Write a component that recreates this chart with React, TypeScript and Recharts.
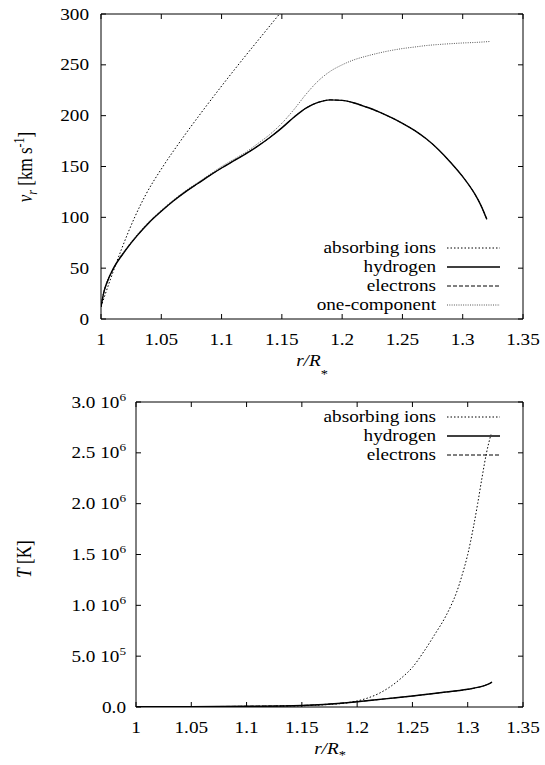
import { LineChart, Line, XAxis, YAxis } from "recharts";

const serif = "Liberation Serif, DejaVu Serif, Times New Roman, serif";

// axes
const xTicks = [1, 1.05, 1.1, 1.15, 1.2, 1.25, 1.3, 1.35];
const vTicks = [0, 50, 100, 150, 200, 250, 300];
const tTicks = [0, 5e5, 1e6, 1.5e6, 2e6, 2.5e6, 3e6];
const tMantissa = ["0.0", "5.0", "1.0", "1.5", "2.0", "2.5", "3.0"];
const tExponent = ["", "5", "6", "6", "6", "6", "6"];

// top panel: radial velocity [km/s]
const ionsVR = [1.0, 1.0081, 1.0168, 1.0283, 1.037, 1.0514, 1.0659, 1.0832, 1.1006, 1.1179, 1.135, 1.148];
const ionsV = [12, 40, 68, 101, 122, 150, 175, 203, 230, 256, 281, 300];

const hydroVR = [1.0, 1.0025, 1.005, 1.01, 1.02, 1.03, 1.04, 1.05, 1.06, 1.07, 1.08, 1.09, 1.1, 1.11, 1.12, 1.13, 1.14, 1.15, 1.16, 1.17, 1.18, 1.19, 1.2, 1.21, 1.22, 1.23, 1.24, 1.25, 1.26, 1.27, 1.28, 1.29, 1.3, 1.31, 1.315, 1.32];
const hydroV = [12, 27, 36, 49, 67, 82, 95, 106, 116, 125, 133, 141, 148.5, 155.5, 162.5, 170, 178.5, 188, 198.5, 207.5, 213, 215.5, 215, 212.5, 208.5, 204, 198.5, 192.5, 185.5, 177, 166.5, 154, 140, 123, 112, 98];
const electronsV = [12, 27, 36, 49, 67, 82, 95, 106, 116, 125, 133, 141, 148.5, 155.5, 162.5, 170, 178.5, 188, 198.5, 207.5, 213, 215.5, 215, 212.5, 208.5, 204, 198.5, 192.5, 185.5, 177, 166.5, 154, 140, 123, 112, 98];

const oneCompR = [1.0, 1.0025, 1.005, 1.01, 1.02, 1.03, 1.04, 1.05, 1.06, 1.07, 1.08, 1.09, 1.1, 1.11, 1.12, 1.13, 1.14, 1.15, 1.16, 1.17, 1.18, 1.19, 1.2, 1.21, 1.22, 1.23, 1.24, 1.25, 1.26, 1.27, 1.28, 1.29, 1.3, 1.31, 1.323];
const oneCompV = [12, 28, 37, 50, 68, 83, 96, 107, 117, 126, 134, 142, 150, 157, 164, 172.5, 181.5, 192.5, 206, 221, 234, 243.5, 250, 255, 258.5, 261.5, 264, 266, 267.5, 269, 270, 270.8, 271.5, 272, 273];

// bottom panel: temperature [K]
const ionsTR = [1.0, 1.05, 1.1, 1.15, 1.17, 1.19, 1.2, 1.21, 1.22, 1.23, 1.24, 1.25, 1.26, 1.27, 1.28, 1.285, 1.29, 1.295, 1.3, 1.305, 1.309, 1.313, 1.317, 1.321];
const ionsT = [3e3, 4e3, 6e3, 1.2e4, 2.2e4, 4e4, 6e4, 9e4, 1.35e5, 2.0e5, 2.85e5, 3.9e5, 5.4e5, 7.1e5, 8.9e5, 1.0e6, 1.13e6, 1.3e6, 1.5e6, 1.76e6, 2.0e6, 2.26e6, 2.5e6, 2.68e6];

const hydroTR = [1.0, 1.05, 1.1, 1.15, 1.17, 1.2, 1.225, 1.25, 1.275, 1.3, 1.31, 1.318, 1.322];
const hydroT = [3e3, 4e3, 7e3, 1.5e4, 2.5e4, 5.2e4, 8e4, 1.08e5, 1.4e5, 1.74e5, 1.95e5, 2.22e5, 2.45e5];
const electronsT = [3e3, 4e3, 7e3, 1.5e4, 2.5e4, 5.2e4, 8e4, 1.08e5, 1.4e5, 1.74e5, 1.95e5, 2.22e5, 2.45e5];

const topNames = ["absorbing ions", "hydrogen", "electrons", "one-component"];
const bottomNames = ["absorbing ions", "hydrogen", "electrons"];

const zip = (r: number[], y: number[]) => r.map((v, i) => ({ r: v, y: y[i] }));

const styles: Record<string, { stroke: string; dash?: string; width: number }> = {
  "absorbing ions": { stroke: "#000", dash: "1.5 2", width: 1 },
  hydrogen: { stroke: "#000", width: 1.4 },
  electrons: { stroke: "#000", dash: "4 2", width: 1 },
  "one-component": { stroke: "#555", dash: "1 1.3", width: 1 },
};

const TICK = 5;
const textStyle = { fontFamily: serif };

function XTick({ x, y, payload }: any) {
  return (
    <g>
      <line x1={x} x2={x} y1={y} y2={y - TICK} stroke="#000" />
      <g transform={`translate(${x},${y + 26}) scale(1.2,1)`}>
        <text textAnchor="middle" style={textStyle} fontSize={16} fill="#000">
          {String(payload.value)}
        </text>
      </g>
    </g>
  );
}

function TopTick({ x, y }: any) {
  return <line x1={x} x2={x} y1={y} y2={y + TICK} stroke="#000" />;
}

function RightTick({ x, y }: any) {
  return <line x1={x} x2={x - TICK} y1={y} y2={y} stroke="#000" />;
}

function VTick({ x, y, payload }: any) {
  return (
    <g>
      <line x1={x} x2={x + TICK} y1={y} y2={y} stroke="#000" />
      <g transform={`translate(${x - 12},${y + 5.5}) scale(1.2,1)`}>
        <text textAnchor="end" style={textStyle} fontSize={16} fill="#000">
          {payload.value}
        </text>
      </g>
    </g>
  );
}

function TTick({ x, y, payload }: any) {
  const i = tTicks.indexOf(payload.value);
  return (
    <g>
      <line x1={x} x2={x + TICK} y1={y} y2={y} stroke="#000" />
      <g transform={`translate(${x - 10},${y + 5.5}) scale(1.2,1)`}>
        <text textAnchor="end" style={textStyle} fontSize={16} fill="#000">
          {tMantissa[i]}
          {tExponent[i] ? " 10" : ""}
          {tExponent[i] ? (
            <tspan dy={-7} fontSize={11}>
              {tExponent[i]}
            </tspan>
          ) : null}
        </text>
      </g>
    </g>
  );
}

function series(name: string, data: { r: number; y: number }[]) {
  const s = styles[name];
  return (
    <Line
      key={name}
      data={data}
      dataKey="y"
      type="monotone"
      stroke={s.stroke}
      strokeWidth={s.width}
      strokeDasharray={s.dash}
      dot={false}
      activeDot={false}
      isAnimationActive={false}
    />
  );
}

function frame(left: number, bottom: number, domainY: number[], ticksY: number[], tick: any) {
  const common = { tickSize: 0, tickMargin: 0, tickLine: false, interval: 0 as const, allowDataOverflow: true, stroke: "#000" };
  return [
    <XAxis key="xb" dataKey="r" type="number" domain={[1, 1.35]} ticks={xTicks} height={bottom} tick={<XTick />} {...common} />,
    <XAxis key="xt" xAxisId="top" orientation="top" dataKey="r" type="number" domain={[1, 1.35]} ticks={xTicks} height={1} tick={<TopTick />} {...common} />,
    <YAxis key="yl" type="number" domain={domainY} ticks={ticksY} width={left} tick={tick} {...common} />,
    <YAxis key="yr" yAxisId="right" orientation="right" type="number" domain={domainY} ticks={ticksY} width={1} tick={<RightTick />} {...common} />,
  ];
}

function LegendRows({ names, rows }: { names: string[]; rows: number[] }) {
  return (
    <g>
      {names.map((n, i) => {
        const s = styles[n];
        return (
          <g key={n}>
            <g transform={`translate(436,${rows[i] + 5}) scale(1.2,1)`}>
              <text textAnchor="end" style={textStyle} fontSize={16} fill="#000">
                {n}
              </text>
            </g>
            <line x1={447} x2={500} y1={rows[i]} y2={rows[i]} stroke={s.stroke} strokeWidth={s.width} strokeDasharray={s.dash} />
          </g>
        );
      })}
    </g>
  );
}

export default function App() {
  return (
    <div style={{ position: "relative", width: 545, height: 765, background: "#fff", fontFamily: serif }}>
      <style>{`body{margin:0}`}</style>
      <div style={{ position: "absolute", left: 0, top: 0 }}>
        <LineChart width={545} height={380} margin={{ top: 13, right: 21, left: 0, bottom: 0 }}>
          {frame(101, 61, [0, 300], vTicks, <VTick />)}
          {series("one-component", zip(oneCompR, oneCompV))}
          {series("absorbing ions", zip(ionsVR, ionsV))}
          {series("electrons", zip(hydroVR, electronsV))}
          {series("hydrogen", zip(hydroVR, hydroV))}
        </LineChart>
      </div>
      <div style={{ position: "absolute", left: 0, top: 380 }}>
        <LineChart width={545} height={385} margin={{ top: 21, right: 21, left: 0, bottom: 0 }}>
          {frame(136, 58, [0, 3e6], tTicks, <TTick />)}
          {series("absorbing ions", zip(ionsTR, ionsT))}
          {series("electrons", zip(hydroTR, electronsT))}
          {series("hydrogen", zip(hydroTR, hydroT))}
        </LineChart>
      </div>
      <svg width={545} height={765} style={{ position: "absolute", left: 0, top: 0, pointerEvents: "none" }}>
        <LegendRows names={topNames} rows={[248, 267, 286, 305]} />
        <LegendRows names={bottomNames} rows={[417, 436, 455]} />
        <g transform="translate(312,366) scale(1.2,1)" style={textStyle} fontSize={16} fill="#000">
          <text textAnchor="middle" fontStyle="italic">
            r/R<tspan fontStyle="normal" fontSize={12} dy={12}>*</tspan>
          </text>
        </g>
        <g transform="translate(330,754) scale(1.2,1)" style={textStyle} fontSize={16} fill="#000">
          <text textAnchor="middle" fontStyle="italic">
            r/R<tspan fontStyle="normal" fontSize={12} dy={5}>*</tspan>
          </text>
        </g>
        <g transform="translate(32,167) scale(1.2,1) rotate(-90)" style={textStyle} fontSize={17} fill="#000">
          <text textAnchor="middle">
            <tspan fontStyle="italic">v</tspan>
            <tspan fontStyle="italic" fontSize={12} dy={4}>r</tspan>
            <tspan dy={-4}> [km s</tspan>
            <tspan fontSize={12} dy={-7}>-1</tspan>
            <tspan dy={7}>]</tspan>
          </text>
        </g>
        <g transform="translate(31,559) scale(1.2,1) rotate(-90)" style={textStyle} fontSize={17} fill="#000">
          <text textAnchor="middle">
            <tspan fontStyle="italic">T</tspan> [K]
          </text>
        </g>
      </svg>
    </div>
  );
}
